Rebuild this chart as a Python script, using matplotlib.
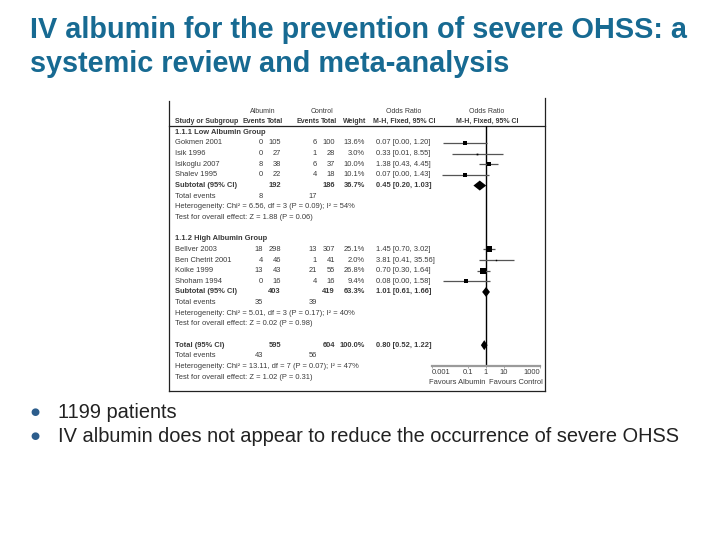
import matplotlib
matplotlib.use("Agg")
import matplotlib.pyplot as plt
from matplotlib.lines import Line2D

# ---------------- data ----------------
title_lines = ["IV albumin for the prevention of severe OHSS: a",
               "systemic review and meta-analysis"]
bullets = ["1199 patients",
           "IV albumin does not appear to reduce the occurrence of severe OHSS"]

low_names = ["Gokmen 2001", "Isik 1996", "Isikoglu 2007", "Shalev 1995"]
low_alb_ev = [0, 0, 8, 0]
low_alb_tot = [105, 27, 38, 22]
low_ctl_ev = [6, 1, 6, 4]
low_ctl_tot = [100, 28, 37, 18]
low_weight = [13.6, 3.0, 10.0, 10.1]
low_or = [0.07, 0.33, 1.38, 0.07]
low_lo = [0.004, 0.013, 0.43, 0.0036]
low_hi = [1.20, 8.55, 4.45, 1.43]
low_sub = dict(alb_tot=192, ctl_tot=186, weight=36.7, or_=0.45, lo=0.20, hi=1.03,
               alb_ev=8, ctl_ev=17,
               het="Heterogeneity: Chi² = 6.56, df = 3 (P = 0.09); I² = 54%",
               test="Test for overall effect: Z = 1.88 (P = 0.06)")

high_names = ["Bellver 2003", "Ben Chetrit 2001", "Koike 1999", "Shoham 1994"]
high_alb_ev = [18, 4, 13, 0]
high_alb_tot = [298, 46, 43, 16]
high_ctl_ev = [13, 1, 21, 4]
high_ctl_tot = [307, 41, 55, 16]
high_weight = [25.1, 2.0, 26.8, 9.4]
high_or = [1.45, 3.81, 0.70, 0.08]
high_lo = [0.70, 0.41, 0.30, 0.004]
high_hi = [3.02, 35.56, 1.64, 1.58]
high_sub = dict(alb_tot=403, ctl_tot=419, weight=63.3, or_=1.01, lo=0.61, hi=1.66,
                alb_ev=35, ctl_ev=39,
                het="Heterogeneity: Chi² = 5.01, df = 3 (P = 0.17); I² = 40%",
                test="Test for overall effect: Z = 0.02 (P = 0.98)")

total = dict(alb_tot=595, ctl_tot=604, weight=100.0, or_=0.80, lo=0.52, hi=1.22,
             alb_ev=43, ctl_ev=56,
             het="Heterogeneity: Chi² = 13.11, df = 7 (P = 0.07); I² = 47%",
             test="Test for overall effect: Z = 1.02 (P = 0.31)")

axis_ticks = [0.001, 0.1, 1, 10, 1000]
axis_ticklabels = ["0.001", "0.1", "1", "10", "1000"]

# ---------------- styling ----------------
plt.rcParams["font.family"] = ["Liberation Sans", "DejaVu Sans"]
TITLE_C = "#176a92"
TXT = "#3a3a3a"
FS = 5.4
FS_H = 5.0

fig = plt.figure(figsize=(7.2, 5.4), dpi=100)
ax = fig.add_axes([0, 0, 1, 1])
ax.set_xlim(0, 720)
ax.set_ylim(540, 0)
ax.axis("off")

# title
ax.text(30, 38, title_lines[0], fontsize=20.8, fontweight="bold", color=TITLE_C, va="baseline")
ax.text(30, 72, title_lines[1], fontsize=20.8, fontweight="bold", color=TITLE_C, va="baseline")

# bullets
for i, b in enumerate(bullets):
    yb = 417.5 + 24.5 * i
    ax.text(35, yb - 5.5, "●", fontsize=7.5, color="#2c5d8c", ha="center", va="center",
            family=["DejaVu Sans"])
    ax.text(58, yb, b, fontsize=14.4, color="#222222", va="baseline")

# ---------------- forest plot ----------------
Y0, DY = 143.0, 10.64


def ry(r):
    return Y0 + DY * r


# frame
L, R, T, B = 169, 545, 101, 391
for xs, ys in [([L, L], [T, B]), ([L, R], [B, B]), ([R, R], [T - 3, B]), ([L, R], [126, 126])]:
    ax.add_line(Line2D(xs, ys, color="#222222", lw=0.9))

X_NAME, X_AE, X_AT, X_CE, X_CT, X_W, X_OR = 175, 263, 281, 317, 335, 365, 376


def t(x, r, s, ha="left", bold=False, fs=FS):
    ax.text(x, ry(r), s, fontsize=fs, color=TXT, ha=ha, va="center",
            fontweight="bold" if bold else "normal")


# header
t(263, -3, "Albumin", ha="center", fs=FS_H)
t(322, -3, "Control", ha="center", fs=FS_H)
t(404, -3, "Odds Ratio", ha="center", fs=FS_H)
t(487, -3, "Odds Ratio", ha="center", fs=FS_H)
t(X_NAME, -2, "Study or Subgroup", bold=True, fs=FS_H)
t(254, -2, "Events", ha="center", bold=True, fs=FS_H)
t(275, -2, "Total", ha="center", bold=True, fs=FS_H)
t(308, -2, "Events", ha="center", bold=True, fs=FS_H)
t(329, -2, "Total", ha="center", bold=True, fs=FS_H)
t(355, -2, "Weight", ha="center", bold=True, fs=FS_H)
t(404, -2, "M-H, Fixed, 95% CI", ha="center", bold=True, fs=FS_H)
t(487, -2, "M-H, Fixed, 95% CI", ha="center", bold=True, fs=FS_H)

fax = fig.add_axes([432 / 720, 1 - 366 / 540, 108 / 720, (366 - 126) / 540])
fax.patch.set_alpha(0)
fax.set_xscale("log")
fax.set_xlim(axis_ticks[0], axis_ticks[-1])
fax.set_ylim((366 - Y0) / DY, (126 - Y0) / DY)
for s in ["top", "left", "right"]:
    fax.spines[s].set_visible(False)
fax.spines["bottom"].set_color("#9a9a9a")
fax.spines["bottom"].set_linewidth(1.6)
fax.set_yticks([])
fax.set_xticks(axis_ticks)
fax.set_xticklabels(axis_ticklabels)
fax.minorticks_off()
fax.tick_params(axis="x", length=1.5, width=0.6, color="#9a9a9a", labelsize=FS,
                labelcolor=TXT, pad=1)
lbls = fax.get_xticklabels()
lbls[0].set_horizontalalignment("left")
lbls[-1].set_horizontalalignment("right")
fax.axvline(1, color="black", lw=1.0)
ax.text(485, 382, "Favours Albumin", fontsize=FS, color=TXT, ha="right", va="center")
ax.text(489, 382, "Favours Control", fontsize=FS, color=TXT, ha="left", va="center")


def diamond(r, or_, lo, hi):
    h = 0.47
    fax.fill([lo, or_, hi, or_], [r, r - h, r, r + h], color="black", lw=0)


def group(r0, label, names, aev, atot, cev, ctot, w, ors, los, his, sub):
    t(X_NAME, r0 - 1, label, bold=True)
    for i in range(len(names)):
        r = r0 + i
        t(X_NAME, r, names[i])
        t(X_AE, r, str(aev[i]), ha="right")
        t(X_AT, r, str(atot[i]), ha="right")
        t(X_CE, r, str(cev[i]), ha="right")
        t(X_CT, r, str(ctot[i]), ha="right")
        t(X_W, r, f"{w[i]:.1f}%", ha="right")
        t(X_OR, r, f"{ors[i]:.2f} [{los[i]:.2f}, {his[i]:.2f}]")
        fax.hlines(r, los[i], his[i], color="#555555", lw=0.9)
        fax.plot(ors[i], r, marker="s", ms=0.72 * w[i] ** 0.5, color="black", mew=0)
    rs = r0 + len(names)
    t(X_NAME, rs, "Subtotal (95% CI)", bold=True)
    t(X_AT, rs, str(sub["alb_tot"]), ha="right", bold=True)
    t(X_CT, rs, str(sub["ctl_tot"]), ha="right", bold=True)
    t(X_W, rs, f"{sub['weight']:.1f}%", ha="right", bold=True)
    t(X_OR, rs, f"{sub['or_']:.2f} [{sub['lo']:.2f}, {sub['hi']:.2f}]", bold=True)
    diamond(rs, sub["or_"], sub["lo"], sub["hi"])
    t(X_NAME, rs + 1, "Total events")
    t(X_AE, rs + 1, str(sub["alb_ev"]), ha="right")
    t(X_CE, rs + 1, str(sub["ctl_ev"]), ha="right")
    t(X_NAME, rs + 2, sub["het"])
    t(X_NAME, rs + 3, sub["test"])


group(0, "1.1.1 Low Albumin Group", low_names, low_alb_ev, low_alb_tot, low_ctl_ev,
      low_ctl_tot, low_weight, low_or, low_lo, low_hi, low_sub)
group(10, "1.1.2 High Albumin Group", high_names, high_alb_ev, high_alb_tot, high_ctl_ev,
      high_ctl_tot, high_weight, high_or, high_lo, high_hi, high_sub)

rt = 19
t(X_NAME, rt, "Total (95% CI)", bold=True)
t(X_AT, rt, str(total["alb_tot"]), ha="right", bold=True)
t(X_CT, rt, str(total["ctl_tot"]), ha="right", bold=True)
t(X_W, rt, f"{total['weight']:.1f}%", ha="right", bold=True)
t(X_OR, rt, f"{total['or_']:.2f} [{total['lo']:.2f}, {total['hi']:.2f}]", bold=True)
diamond(rt, total["or_"], total["lo"], total["hi"])
t(X_NAME, rt + 1, "Total events")
t(X_AE, rt + 1, str(total["alb_ev"]), ha="right")
t(X_CE, rt + 1, str(total["ctl_ev"]), ha="right")
t(X_NAME, rt + 2, total["het"])
t(X_NAME, rt + 3, total["test"])

fig.savefig("out.png", dpi=100)
